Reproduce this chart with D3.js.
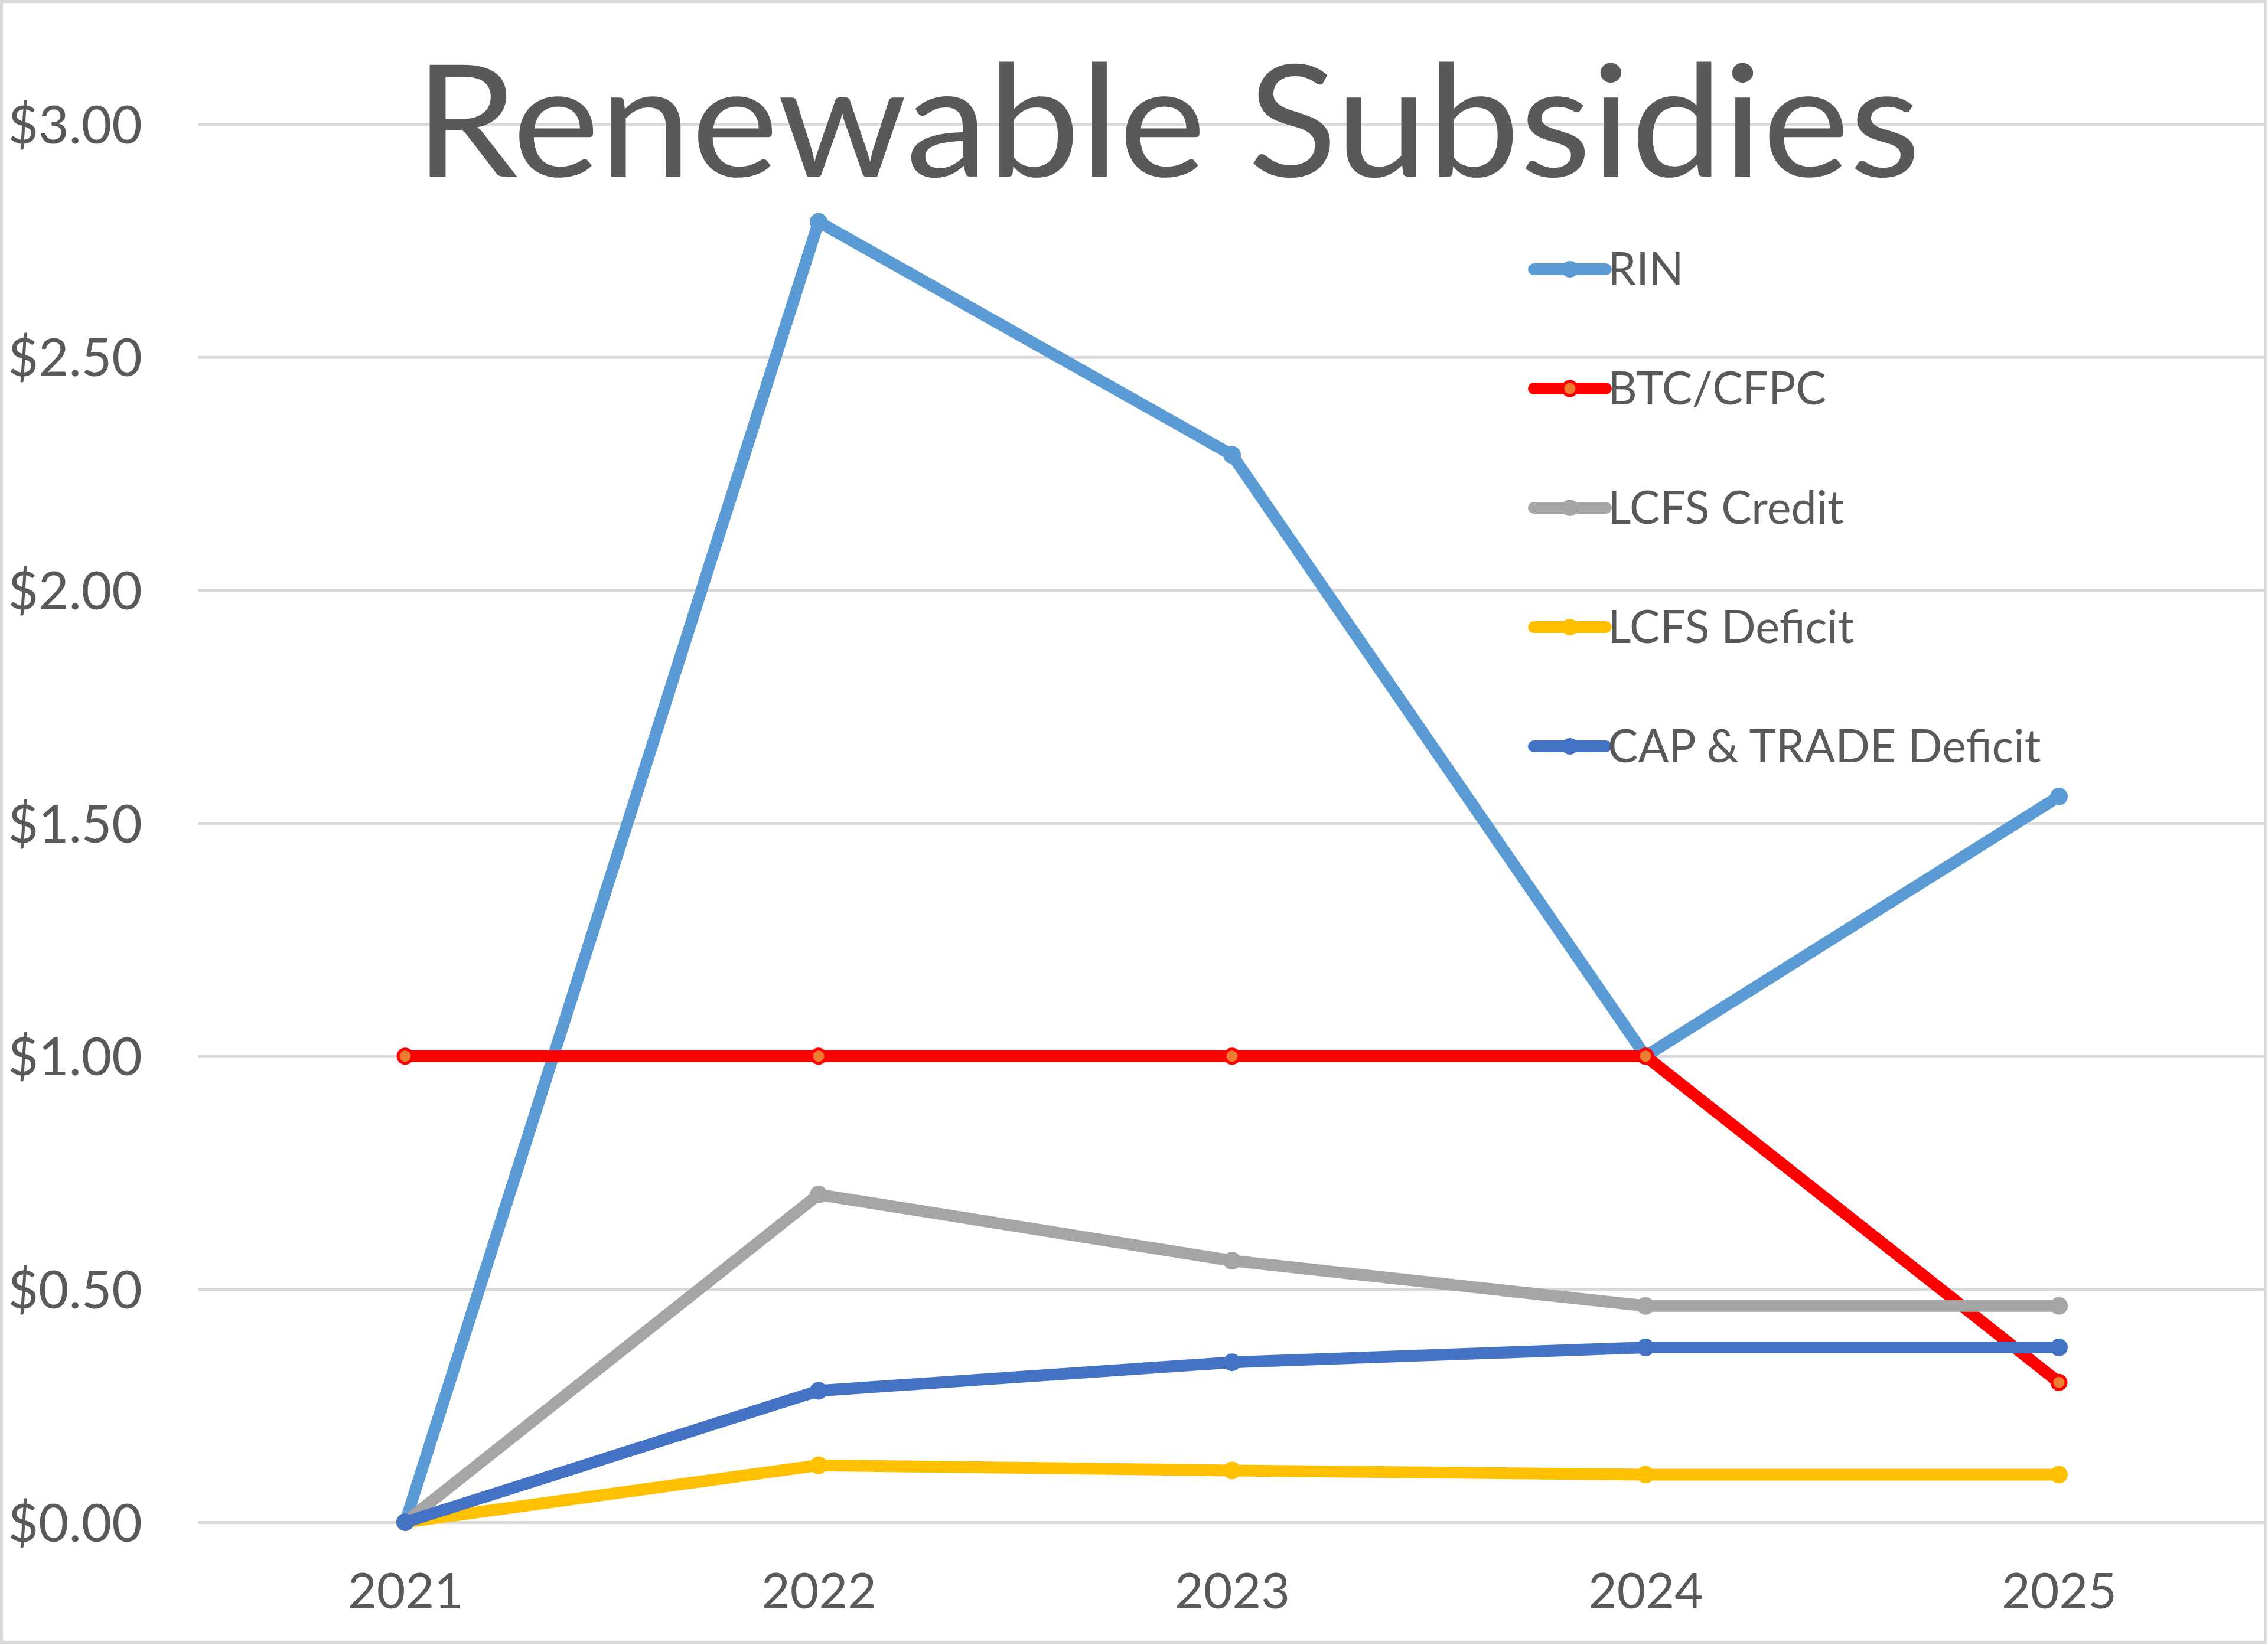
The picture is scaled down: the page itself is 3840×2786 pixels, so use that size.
<!DOCTYPE html>
<html>
<head>
<meta charset="utf-8">
<script src="https://cdn.jsdelivr.net/npm/d3@7/dist/d3.min.js"></script>
<style>
  html, body { margin: 0; padding: 0; background: #ffffff; }
  svg { display: block; }
</style>
</head>
<body>
<script>
// ---- Data ----
const years = ["2021", "2022", "2023", "2024", "2025"];
const seriesNames = ["RIN", "BTC/CFPC", "LCFS Credit", "LCFS Deficit", "CAP & TRADE Deficit"];
const rinValues = [0, 2.79, 2.29, 1.00, 1.557];
const btcValues = [1.00, 1.00, 1.00, 1.00, 0.30];
const lcfsCreditValues = [0, 0.703, 0.561, 0.464, 0.464];
const lcfsDeficitValues = [0, 0.122, 0.111, 0.102, 0.102];
const capTradeValues = [0, 0.282, 0.343, 0.375, 0.375];
const yTicks = [0, 0.5, 1.0, 1.5, 2.0, 2.5, 3.0];
const chartTitle = "Renewable Subsidies";

// ---- Styles ----
const lineColors = ["#5B9BD5", "#FF0000", "#A5A5A5", "#FFC000", "#4472C4"];
const markerFills = ["#5B9BD5", "#ED7D31", "#A5A5A5", "#FFC000", "#4472C4"];
const allValues = [rinValues, btcValues, lcfsCreditValues, lcfsDeficitValues, capTradeValues];
const series = seriesNames.map((name, i) => ({
  name, values: allValues[i], color: lineColors[i], fill: markerFills[i]
}));

const W = 3840, H = 2786;
const textColor = "#595959";
const gridColor = "#D9D9D9";
const font = "Lato, 'Open Sans', sans-serif";

const svg = d3.select("body").append("svg")
  .attr("width", W).attr("height", H)
  .attr("viewBox", `0 0 ${W} ${H}`);

svg.append("rect").attr("x", 0).attr("y", 0).attr("width", W).attr("height", H).attr("fill", "#fff");

const plotLeft = 336, plotRight = 3836, plotTop = 210, plotBottom = 2578;

const x = d3.scalePoint().domain(years).range([plotLeft, plotRight]).padding(0.5);
const y = d3.scaleLinear().domain([0, 3]).range([plotBottom, plotTop]);

// Y axis with gridlines
const yAxis = d3.axisLeft(y)
  .tickValues(yTicks)
  .tickFormat(d => "$" + d3.format(".2f")(d))
  .tickSize(-(plotRight - plotLeft))
  .tickPadding(95);

const gy = svg.append("g").attr("transform", `translate(${plotLeft},0)`).call(yAxis);
gy.select(".domain").remove();
gy.selectAll(".tick line").attr("stroke", gridColor).attr("stroke-width", 5);
gy.selectAll(".tick text")
  .attr("fill", textColor)
  .attr("font-family", font)
  .attr("font-size", 89)
  .attr("dy", "0.36em");

// X axis
const xAxis = d3.axisBottom(x).tickSize(0).tickPadding(0);
const gx = svg.append("g").attr("transform", `translate(0,${plotBottom})`).call(xAxis);
gx.select(".domain").remove();
gx.selectAll(".tick text")
  .attr("fill", textColor)
  .attr("font-family", font)
  .attr("font-size", 84)
  .attr("y", 146)
  .attr("dy", 0);

// Title (drawn over gridlines)
svg.append("text")
  .attr("x", 1977).attr("y", 299)
  .attr("text-anchor", "middle")
  .attr("font-family", font)
  .attr("font-size", 264)
  .attr("fill", textColor)
  .attr("textLength", 2550)
  .attr("lengthAdjust", "spacingAndGlyphs")
  .text(chartTitle);

// Lines and markers
const line = d3.line().x((d, i) => x(years[i])).y(d => y(d));
series.forEach(s => {
  const g = svg.append("g");
  g.append("path")
    .attr("d", line(s.values))
    .attr("fill", "none")
    .attr("stroke", s.color)
    .attr("stroke-width", 20)
    .attr("stroke-linejoin", "round")
    .attr("stroke-linecap", "round");
  g.selectAll("circle").data(s.values).join("circle")
    .attr("cx", (d, i) => x(years[i]))
    .attr("cy", d => y(d))
    .attr("r", s.fill !== s.color ? 12 : 15)
    .attr("fill", s.fill)
    .attr("stroke", s.color)
    .attr("stroke-width", s.fill !== s.color ? 5 : 0);
});

// Legend
const legendX0 = 2597, legendX1 = 2719, legendTextX = 2722;
const legendY0 = 456, legendStep = 202;
const lg = svg.append("g");
series.forEach((s, i) => {
  const ly = legendY0 + i * legendStep;
  lg.append("line")
    .attr("x1", legendX0).attr("x2", legendX1)
    .attr("y1", ly).attr("y2", ly)
    .attr("stroke", s.color).attr("stroke-width", 20)
    .attr("stroke-linecap", "round");
  lg.append("circle")
    .attr("cx", (legendX0 + legendX1) / 2).attr("cy", ly)
    .attr("r", s.fill !== s.color ? 12 : 14)
    .attr("fill", s.fill)
    .attr("stroke", s.color)
    .attr("stroke-width", s.fill !== s.color ? 5 : 0);
  lg.append("text")
    .attr("x", legendTextX).attr("y", ly + 27)
    .attr("font-family", font)
    .attr("font-size", 77)
    .attr("fill", textColor)
    .text(s.name);
});

// Chart border
svg.append("rect")
  .attr("x", 2.5).attr("y", 2.5)
  .attr("width", 3833).attr("height", 2779)
  .attr("fill", "none")
  .attr("stroke", gridColor)
  .attr("stroke-width", 5);
</script>
</body>
</html>
